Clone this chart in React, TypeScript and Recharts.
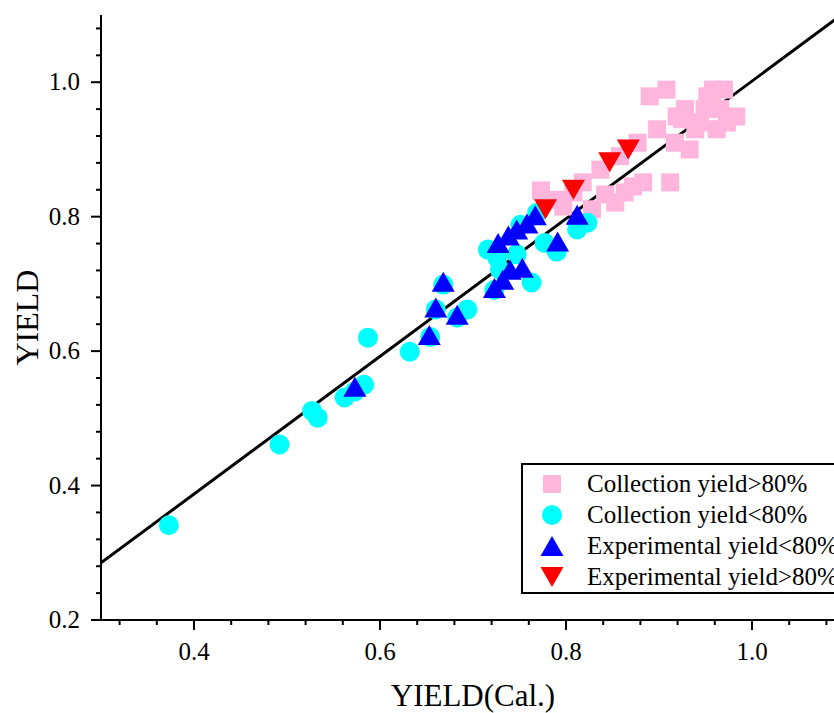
import React from "react";
import {
  ScatterChart,
  Scatter,
  XAxis,
  YAxis,
  ReferenceLine,
} from "recharts";

// Collection yield>80%
const pinkX = [0.890, 0.908, 0.958, 0.970, 0.952, 0.928, 0.919, 0.983, 0.973, 0.962, 0.944, 0.898, 0.877, 0.917, 0.933, 0.949, 0.939, 0.966, 0.858, 0.837, 0.818, 0.773, 0.791, 0.808, 0.828, 0.853, 0.863, 0.883, 0.912, 0.872, 0.842, 0.957, 0.925, 0.797];
const pinkY = [0.979, 0.989, 0.989, 0.989, 0.979, 0.960, 0.949, 0.949, 0.940, 0.930, 0.940, 0.930, 0.910, 0.910, 0.900, 0.960, 0.930, 0.960, 0.890, 0.870, 0.851, 0.839, 0.825, 0.836, 0.811, 0.821, 0.836, 0.851, 0.851, 0.845, 0.833, 0.975, 0.945, 0.815];

// Collection yield<80%
const cyanX = [0.373, 0.492, 0.527, 0.533, 0.562, 0.583, 0.587, 0.632, 0.654, 0.660, 0.668, 0.694, 0.683, 0.723, 0.763, 0.729, 0.747, 0.716, 0.726, 0.777, 0.790, 0.812, 0.823, 0.769, 0.751, 0.573];
const cyanY = [0.341, 0.461, 0.511, 0.501, 0.531, 0.550, 0.620, 0.599, 0.621, 0.662, 0.699, 0.662, 0.650, 0.691, 0.702, 0.721, 0.744, 0.751, 0.739, 0.761, 0.748, 0.781, 0.791, 0.806, 0.788, 0.540];

// Experimental yield<80%
const blueX = [0.573, 0.653, 0.660, 0.668, 0.683, 0.723, 0.732, 0.740, 0.753, 0.727, 0.738, 0.747, 0.758, 0.767, 0.791, 0.812];
const blueY = [0.547, 0.624, 0.665, 0.703, 0.654, 0.694, 0.706, 0.721, 0.724, 0.761, 0.772, 0.781, 0.790, 0.802, 0.763, 0.803];

// Experimental yield>80%
const redX = [0.778, 0.808, 0.847, 0.867];
const redY = [0.811, 0.840, 0.881, 0.900];

// fitted line
const fitX = [0.3, 1.1];
const fitY = [0.285, 1.104];

const xTicks = [0.32, 0.36, 0.4, 0.44, 0.48, 0.52, 0.56, 0.6, 0.64, 0.68, 0.72, 0.76, 0.8, 0.84, 0.88, 0.92, 0.96, 1.0, 1.04, 1.08];
const yTicks = [0.2, 0.24, 0.28, 0.32, 0.36, 0.4, 0.44, 0.48, 0.52, 0.56, 0.6, 0.64, 0.68, 0.72, 0.76, 0.8, 0.84, 0.88, 0.92, 0.96, 1.0, 1.04, 1.08];
const majorTicks = [0.2, 0.4, 0.6, 0.8, 1.0];

const FONT = "'Liberation Serif', 'Times New Roman', serif";
const PINK = "#FFB5DC";
const CYAN = "#00FFFF";
const BLUE = "#0000FF";
const RED = "#FF0000";

const toPoints = (xs: number[], ys: number[]) => xs.map((x, i) => ({ x, y: ys[i] }));

const isMajor = (v: number) => majorTicks.some((m) => Math.abs(m - v) < 1e-6);

const XTick = ({ x, y, payload }: any) => {
  const major = isMajor(payload.value);
  return (
    <g>
      <line x1={x} x2={x} y1={y} y2={y + (major ? 10 : 5)} stroke="#000" strokeWidth={2} />
      {major && (
        <text x={x} y={y + 40} textAnchor="middle" fontSize={25} fontFamily={FONT} fill="#000">
          {payload.value.toFixed(1)}
        </text>
      )}
    </g>
  );
};

const YTick = ({ x, y, payload }: any) => {
  const major = isMajor(payload.value);
  return (
    <g>
      <line x1={x} x2={x - (major ? 10 : 5)} y1={y} y2={y} stroke="#000" strokeWidth={2} />
      {major && (
        <text x={x - 21} y={y} dy="0.33em" textAnchor="end" fontSize={25} fontFamily={FONT} fill="#000">
          {payload.value.toFixed(1)}
        </text>
      )}
    </g>
  );
};

const Square = ({ cx, cy }: any) => (
  <rect x={cx - 9} y={cy - 9} width={18} height={18} fill={PINK} />
);
const Dot = ({ cx, cy }: any) => <circle cx={cx} cy={cy} r={10} fill={CYAN} />;
const UpTri = ({ cx, cy }: any) => (
  <polygon points={`${cx},${cy - 10} ${cx + 11.5},${cy + 10} ${cx - 11.5},${cy + 10}`} fill={BLUE} />
);
const DownTri = ({ cx, cy }: any) => (
  <polygon points={`${cx - 11.5},${cy - 10} ${cx + 11.5},${cy - 10} ${cx},${cy + 10}`} fill={RED} />
);

const legendItems = [
  { label: "Collection yield>80%", kind: "square" },
  { label: "Collection yield<80%", kind: "circle" },
  { label: "Experimental yield<80%", kind: "up" },
  { label: "Experimental yield>80%", kind: "down" },
];

const LegendIcon = ({ kind }: { kind: string }) => (
  <svg width={26} height={24} style={{ display: "block" }}>
    {kind === "square" && <rect x={4} y={3} width={18} height={18} fill={PINK} />}
    {kind === "circle" && <circle cx={13} cy={12} r={10} fill={CYAN} />}
    {kind === "up" && <polygon points="13,2 24.5,22 1.5,22" fill={BLUE} />}
    {kind === "down" && <polygon points="1.5,2 24.5,2 13,22" fill={RED} />}
  </svg>
);

export default function App() {
  return (
    <div
      style={{
        position: "absolute",
        left: 0,
        top: 0,
        width: 834,
        height: 713,
        overflow: "hidden",
        background: "#fff",
      }}
    >
      <ScatterChart width={845} height={713} margin={{ top: 15, right: 0, bottom: 0, left: 0 }}>
        <XAxis
          type="number"
          dataKey="x"
          domain={[0.3, 1.1]}
          ticks={xTicks}
          interval={0}
          tickSize={0}
          tickMargin={0}
          tickLine={false}
          tick={<XTick />}
          height={93}
          axisLine={{ stroke: "#000", strokeWidth: 2 }}
          allowDataOverflow
          label={{
            value: "YIELD(Cal.)",
            position: "insideBottom",
            offset: 7,
            style: { fontSize: 31, fontFamily: FONT, fill: "#000" },
          }}
        />
        <YAxis
          type="number"
          dataKey="y"
          domain={[0.2, 1.1]}
          ticks={yTicks}
          interval={0}
          tickSize={0}
          tickMargin={0}
          tickLine={false}
          tick={<YTick />}
          width={101}
          axisLine={{ stroke: "#000", strokeWidth: 2 }}
          allowDataOverflow
          label={{
            value: "YIELD",
            angle: -90,
            position: "insideLeft",
            offset: 27,
            style: { fontSize: 32, fontFamily: FONT, fill: "#000", textAnchor: "middle" },
          }}
        />
        <ReferenceLine
          segment={[
            { x: fitX[0], y: fitY[0] },
            { x: fitX[1], y: fitY[1] },
          ]}
          stroke="#000"
          strokeWidth={3}
          ifOverflow="hidden"
        />
        <Scatter data={toPoints(pinkX, pinkY)} shape={<Square />} isAnimationActive={false} />
        <Scatter data={toPoints(cyanX, cyanY)} shape={<Dot />} isAnimationActive={false} />
        <Scatter data={toPoints(blueX, blueY)} shape={<UpTri />} isAnimationActive={false} />
        <Scatter data={toPoints(redX, redY)} shape={<DownTri />} isAnimationActive={false} />
      </ScatterChart>
      <div
        style={{
          position: "absolute",
          left: 521,
          top: 463,
          width: 340,
          height: 127,
          border: "2px solid #000",
          background: "#fff",
          fontFamily: FONT,
          fontSize: 25,
          color: "#000",
        }}
      >
        {legendItems.map((item, i) => (
          <div
            key={item.label}
            style={{
              position: "absolute",
              left: 0,
              top: 3 + i * 31,
              height: 31,
              display: "flex",
              alignItems: "center",
              whiteSpace: "nowrap",
            }}
          >
            <div style={{ width: 26, marginLeft: 16 }}>
              <LegendIcon kind={item.kind} />
            </div>
            <span style={{ marginLeft: 22, lineHeight: "31px" }}>{item.label}</span>
          </div>
        ))}
      </div>
    </div>
  );
}
